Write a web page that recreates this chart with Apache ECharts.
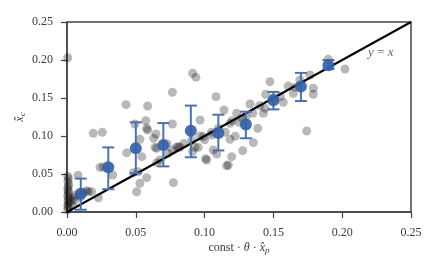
<!DOCTYPE html>
<html>
<head>
<meta charset="utf-8">
<script src="https://cdn.jsdelivr.net/npm/echarts@6/dist/echarts.min.js"></script>
<style>html,body{margin:0;padding:0;background:#fff}#c{width:437px;height:270px}</style>
</head>
<body>
<div id="c"></div>
<script>
// Individual samples (x = const·θ·x̂_p, y = x̂_c)
const sampleX = [
  0.0005,0.0008,0.0006,0.0010,0.0007,0.0012,0.0005,0.0009,0.0011,0.0006,0.0008,0.0013,0.0007,0.0010,0.0006,
  0.0005,
  0.0029,0.0058,0.0046,0.0080,0.0119,0.0143,0.0155,0.0179,0.0228,0.0100,0.0060,0.0040,
  0.0191,0.0257,0.0240,0.0264,0.0332,0.0434,0.0429,0.0494,0.0572,0.0579,0.0586,0.0482,0.0516,0.0506,0.0530,0.0579,
  0.0544,0.0530,0.0630,0.0647,0.0652,0.0652,0.0676,0.0640,0.0727,0.0736,0.0766,0.0766,0.0766,0.0773,0.0797,0.0821,
  0.0906,0.0913,0.0930,0.0913,0.0937,0.0954,0.0967,0.0967,0.0991,0.1008,0.1015,0.1051,0.1063,0.1083,0.1088,0.1141,
  0.1160,0.1185,0.1185,0.1197,0.1223,0.1233,0.1270,0.1277,0.1330,0.1354,0.1386,0.1427,0.1439,0.1444,0.1475,0.1572,
  0.1608,0.1645,0.1657,0.1693,0.1742,0.1766,0.1790,0.1790,0.1899,0.2020,
  0.0850,0.1000,0.1050,0.1100,0.1150,0.1200,0.1250,0.1300,0.1350,0.1400,0.1500,0.1550,0.0809,0.1172,0.0586
];
const sampleY = [
  0.003,0.006,0.009,0.012,0.015,0.018,0.021,0.024,0.027,0.030,0.033,0.036,0.040,0.044,0.047,
  0.203,
  0.0136,0.0158,0.0184,0.0483,0.0254,0.0281,0.0267,0.0268,0.0185,0.0200,0.0220,0.0080,
  0.1035,0.1048,0.0588,0.0592,0.0487,0.0778,0.1412,0.1158,0.1201,0.1101,0.1395,0.0518,0.0530,0.0267,0.0377,0.0452,
  0.0728,0.0956,0.0970,0.1026,0.0838,0.0649,0.0684,0.0851,0.0899,0.0772,0.1575,0.1158,0.0816,0.0386,0.0851,0.0851,
  0.0947,0.0794,0.0851,0.1825,0.1772,0.0851,0.1210,0.1000,0.0991,0.0702,0.0684,0.1013,0.0816,0.1518,0.0763,0.1342,
  0.0609,0.0956,0.1167,0.0728,0.0998,0.1298,0.1232,0.0807,0.1421,0.0912,0.1101,0.1298,0.1364,0.1548,0.1715,0.1443,
  0.1658,0.1561,0.1640,0.1737,0.1066,0.1803,0.1628,0.1549,0.2009,0.1882,
  0.0900,0.0950,0.1050,0.1100,0.1050,0.1200,0.1180,0.1250,0.1300,0.1400,0.1500,0.1520,0.0859,0.0618,0.1079
];
// Binned means with error bars
const binX    = [0.01, 0.03, 0.05, 0.07, 0.09, 0.11, 0.13, 0.15, 0.17, 0.19];
const binMean = [0.024,0.059,0.084,0.088,0.107,0.104,0.115,0.147,0.165,0.193];
const binLow  = [0.003,0.030,0.051,0.060,0.072,0.081,0.097,0.135,0.146,0.188];
const binHigh = [0.044,0.085,0.118,0.117,0.140,0.128,0.132,0.158,0.183,0.200];
// Reference line y = x
const refLine = [[0, 0], [0.25, 0.25]];
const refLabelAt = [[0.228, 0.21]];
const axisTicks = [0, 0.05, 0.10, 0.15, 0.20, 0.25];

const serif = '"Liberation Serif", "DejaVu Serif", serif';
const blue = '#4c72b0';
const textColor = '#3a3a3a';

const chart = echarts.init(document.getElementById('c'), null, {renderer: 'canvas'});
chart.setOption({
  animation: false,
  backgroundColor: '#fff',
  grid: {left: 67, right: 26, top: 22, bottom: 58, show: true, borderColor: '#444', borderWidth: 1.5, backgroundColor: 'transparent'},
  xAxis: {
    type: 'value', min: axisTicks[0], max: axisTicks[axisTicks.length - 1], interval: 0.05,
    axisLine: {lineStyle: {color: '#444', width: 1.5}},
    axisTick: {show: true, length: 6, lineStyle: {color: '#444', width: 1.2}},
    splitLine: {show: false},
    axisLabel: {margin: 15, color: textColor, fontFamily: serif, fontSize: 12, formatter: v => v.toFixed(2)},
    name: '{r|const · }{i|θ}{r| · }{i|x̂}{s|p}',
    nameLocation: 'middle', nameGap: 28, nameMoveOverlap: false,
    nameTextStyle: {rich: {
      r: {fontFamily: serif, fontSize: 12, color: textColor},
      i: {fontFamily: serif, fontStyle: 'italic', fontSize: 12, color: textColor},
      s: {fontFamily: serif, fontStyle: 'italic', fontSize: 9, color: textColor, padding: [6, 0, 0, 0]}
    }}
  },
  yAxis: {
    type: 'value', min: axisTicks[0], max: axisTicks[axisTicks.length - 1], interval: 0.05,
    axisLine: {show: true, lineStyle: {color: '#444', width: 1.5}},
    axisTick: {show: true, length: 6, lineStyle: {color: '#444', width: 1.2}},
    splitLine: {show: false},
    axisLabel: {margin: 14, color: textColor, fontFamily: serif, fontSize: 12, formatter: v => v.toFixed(2)},
    name: '{i|x̂}{s|c}',
    nameLocation: 'middle', nameGap: 40, nameRotate: 90, nameMoveOverlap: false,
    nameTextStyle: {rich: {
      i: {fontFamily: serif, fontStyle: 'italic', fontSize: 12, color: textColor},
      s: {fontFamily: serif, fontStyle: 'italic', fontSize: 9, color: textColor, padding: [6, 0, 0, 0]}
    }}
  },
  series: [
    {
      type: 'scatter', symbolSize: 9, z: 2,
      itemStyle: {color: 'rgba(0,0,0,0.35)'},
      data: sampleX.map((x, i) => [x, sampleY[i]])
    },
    {
      type: 'line', data: refLine, showSymbol: false, z: 3,
      lineStyle: {color: '#000', width: 2}
    },
    {
      type: 'custom', z: 4,
      data: binX.map((x, i) => [x, binLow[i], binHigh[i]]),
      renderItem: function (params, api) {
        const x = api.value(0);
        const lo = api.coord([x, api.value(1)]);
        const hi = api.coord([x, api.value(2)]);
        const hw = 6;
        const st = {stroke: blue, lineWidth: 2, fill: null};
        return {type: 'group', children: [
          {type: 'line', shape: {x1: lo[0], y1: lo[1], x2: hi[0], y2: hi[1]}, style: st},
          {type: 'line', shape: {x1: lo[0] - hw, y1: lo[1], x2: lo[0] + hw, y2: lo[1]}, style: st},
          {type: 'line', shape: {x1: hi[0] - hw, y1: hi[1], x2: hi[0] + hw, y2: hi[1]}, style: st}
        ]};
      }
    },
    {
      type: 'scatter', symbolSize: 12, z: 5,
      itemStyle: {color: '#3461a8', opacity: 0.92},
      data: binX.map((x, i) => [x, binMean[i]])
    },
    {
      type: 'scatter', symbolSize: 0, z: 6, silent: true,
      data: refLabelAt,
      label: {show: true, position: 'inside', formatter: '{i|y} = {i|x}',
        fontFamily: serif, fontSize: 13, color: textColor,
        rich: {i: {fontFamily: serif, fontStyle: 'italic', fontSize: 13, color: textColor}}}
    }
  ]
});
</script>
</body>
</html>
